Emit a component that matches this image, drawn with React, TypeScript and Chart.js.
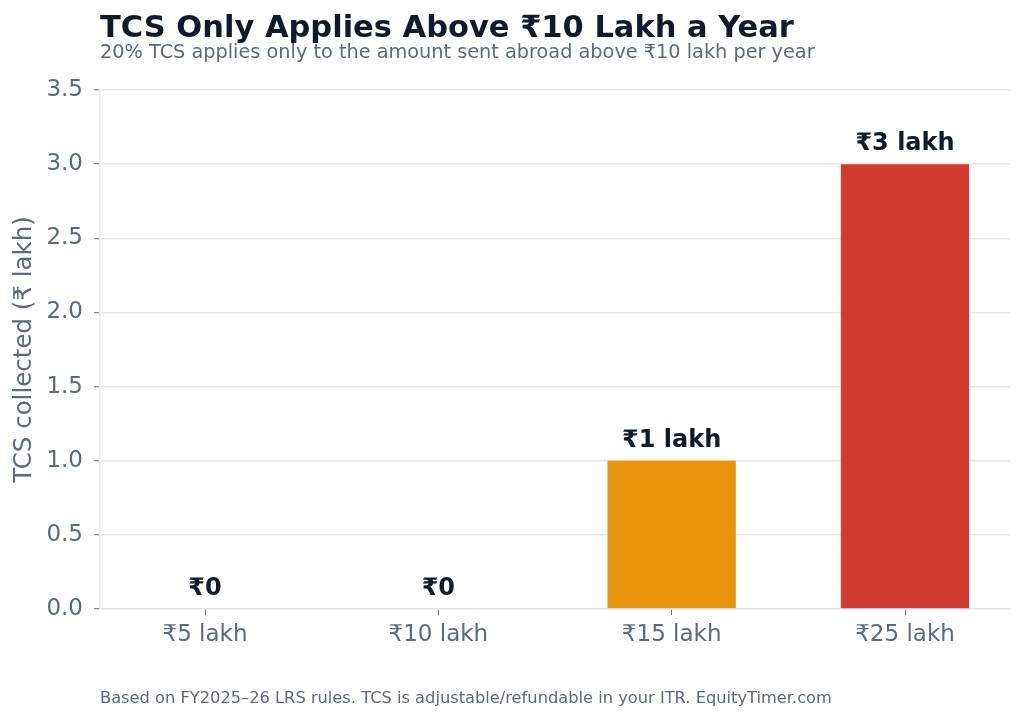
import React, { useEffect, useRef } from "react";
import { Chart, registerables } from "chart.js";

Chart.register(...registerables);

const categories = ["₹5 lakh", "₹10 lakh", "₹15 lakh", "₹25 lakh"];
const tcsValues = [0, 0, 1, 3];
const valueLabels = ["₹0", "₹0", "₹1 lakh", "₹3 lakh"];
const barColors = ["#94a3b8", "#94a3b8", "#e8930c", "#d13b30"];
const yTicks = [0, 0.5, 1, 1.5, 2, 2.5, 3, 3.5];

const TITLE = "TCS Only Applies Above ₹10 Lakh a Year";
const SUBTITLE = "20% TCS applies only to the amount sent abroad above ₹10 lakh per year";
const FOOTER = "Based on FY2025–26 LRS rules. TCS is adjustable/refundable in your ITR. EquityTimer.com";

const FONT = '"DejaVu Sans"';
const DARK = "#0f1b2d";
const SLATE = "#5a6a85";
const GRID = "#e3e8f0";

const textPlugin = {
  id: "texts",
  afterDatasetsDraw(chart: any) {
    const ctx = chart.ctx;
    ctx.save();
    const meta = chart.getDatasetMeta(0);
    ctx.font = `bold 24px ${FONT}`;
    ctx.fillStyle = DARK;
    ctx.textAlign = "center";
    ctx.textBaseline = "alphabetic";
    meta.data.forEach((bar: any, i: number) => {
      ctx.fillText(valueLabels[i], bar.x, bar.y - 14);
    });
    ctx.textAlign = "left";
    ctx.font = `bold 30.5px ${FONT}`;
    ctx.fillStyle = DARK;
    ctx.fillText(TITLE, 100, 37);
    ctx.font = `19.3px ${FONT}`;
    ctx.fillStyle = SLATE;
    ctx.fillText(SUBTITLE, 100, 58);
    ctx.font = `16.25px ${FONT}`;
    ctx.fillText(FOOTER, 100, 703);
    ctx.restore();
  },
};

export default function App() {
  const ref = useRef<HTMLCanvasElement>(null);
  useEffect(() => {
    if (!ref.current) return;
    const chart = new Chart(ref.current, {
      type: "bar",
      data: {
        datasets: [
          {
            data: tcsValues.map((v, i) => ({ x: i, y: v })),
            backgroundColor: barColors,
            borderWidth: 0,
            barPercentage: 0.55,
            categoryPercentage: 1,
          },
        ],
      },
      options: {
        animation: false,
        responsive: false,
        maintainAspectRatio: false,
        layout: { padding: { left: 0, right: 14, top: 90, bottom: 0 } },
        plugins: { legend: { display: false }, tooltip: { enabled: false } },
        scales: {
          x: {
            type: "linear",
            offset: false,
            min: -0.45,
            max: 3.45,
            afterBuildTicks: (scale: any) => {
              scale.ticks = categories.map((_, i) => ({ value: i }));
            },
            afterFit: (scale: any) => {
              scale.height = 113;
            },
            ticks: {
              callback: (v: any) => categories[v as number] ?? "",
              font: { family: FONT, size: 23 },
              color: SLATE,
              padding: 6,
              maxRotation: 0,
              autoSkip: false,
            },
            grid: {
              offset: false,
              drawOnChartArea: false,
              drawTicks: true,
              tickLength: 6,
              tickColor: SLATE,
              tickWidth: 1,
            },
            border: { display: true, color: GRID, width: 1.5 },
          },
          y: {
            min: 0,
            max: 3.5,
            afterBuildTicks: (scale: any) => {
              scale.ticks = yTicks.map((v) => ({ value: v }));
            },
            afterFit: (scale: any) => {
              scale.width = 100;
            },
            ticks: {
              callback: (v: any) => Number(v).toFixed(1),
              font: { family: FONT, size: 23 },
              color: SLATE,
              padding: 11,
            },
            grid: {
              color: GRID,
              lineWidth: 1.5,
              drawTicks: true,
              tickLength: 6,
              tickColor: SLATE,
              tickWidth: 1,
            },
            border: { display: true, color: GRID, width: 1.5 },
            title: {
              display: true,
              text: "TCS collected (₹ lakh)",
              font: { family: FONT, size: 24.5 },
              color: SLATE,
              padding: { top: 10, bottom: 0 },
            },
          },
        },
      },
      plugins: [textPlugin],
    });
    return () => chart.destroy();
  }, []);
  return (
    <div style={{ position: "fixed", left: 0, top: 0, width: 1024, height: 722, background: "#fff" }}>
      <canvas ref={ref} width={1024} height={722} style={{ width: 1024, height: 722 }} />
    </div>
  );
}
